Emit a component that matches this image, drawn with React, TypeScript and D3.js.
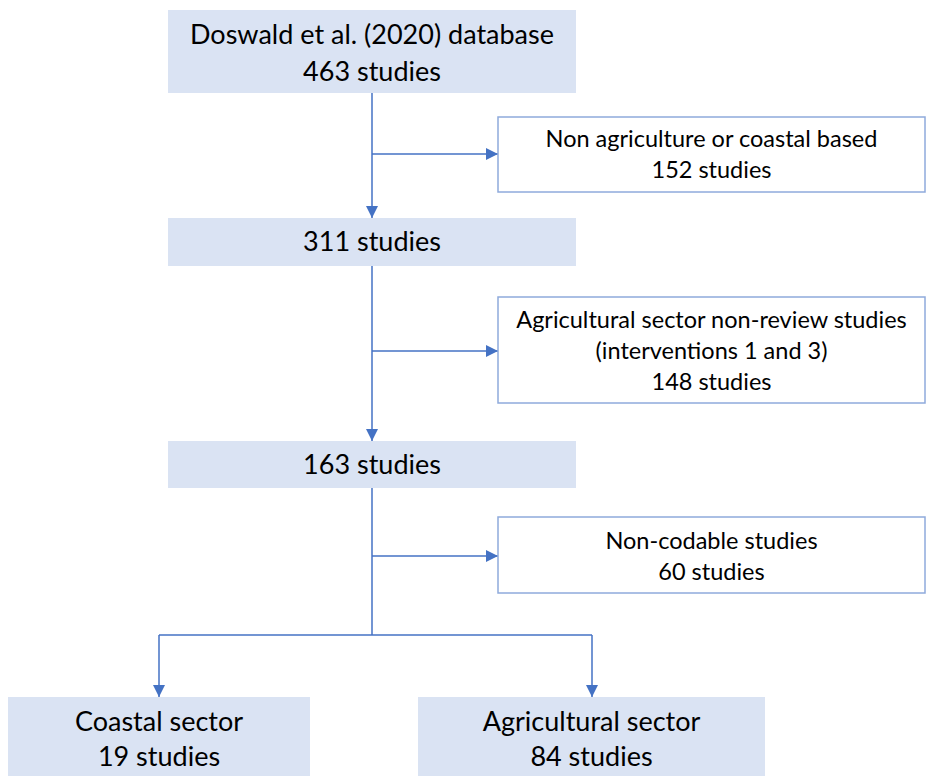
import { useEffect, useRef } from "react";
import * as d3 from "d3";

// main flow (left column), counts of studies
const mainLabels = [["Doswald et al. (2020) database", "463 studies"], ["311 studies"], ["163 studies"]];
// excluded studies (right column)
const excludedLabels = [
  ["Non agriculture or coastal based", "152 studies"],
  ["Agricultural sector non-review studies", "(interventions 1 and 3)", "148 studies"],
  ["Non-codable studies", "60 studies"],
];
// final split
const finalLabels = [["Coastal sector", "19 studies"], ["Agricultural sector", "84 studies"]];

const W = 928;
const H = 776;
const LINE = "#4472c4";
const FILL = "#dae3f3";
const FONT = "Lato, 'Open Sans', sans-serif";

export default function App() {
  const ref = useRef<SVGSVGElement>(null);

  useEffect(() => {
    const svg = d3.select(ref.current);
    svg.selectAll("*").remove();

    const defs = svg.append("defs");
    defs
      .append("marker")
      .attr("id", "arr")
      .attr("viewBox", "0 0 10 10")
      .attr("refX", 10)
      .attr("refY", 5)
      .attr("markerWidth", 12)
      .attr("markerHeight", 12)
      .attr("markerUnits", "userSpaceOnUse")
      .attr("orient", "auto")
      .append("path")
      .attr("d", "M0,0L10,5L0,10Z")
      .attr("fill", LINE);

    // layout of boxes
    const main = [
      { x: 168, y: 10, w: 408, h: 83, lines: mainLabels[0], ty: [35, 72] },
      { x: 168, y: 218, w: 408, h: 48, lines: mainLabels[1], ty: [242] },
      { x: 168, y: 441, w: 408, h: 47, lines: mainLabels[2], ty: [465] },
    ];
    const side = [
      { x: 498, y: 117, w: 427, h: 75, lines: excludedLabels[0], ty: [139, 170] },
      { x: 498, y: 297, w: 427, h: 106, lines: excludedLabels[1], ty: [320, 351, 382] },
      { x: 498, y: 517, w: 427, h: 76, lines: excludedLabels[2], ty: [541, 572] },
    ];
    const bottom = [
      { x: 8, y: 697, w: 302, h: 90, lines: finalLabels[0], ty: [722, 757] },
      { x: 418, y: 697, w: 347, h: 90, lines: finalLabels[1], ty: [722, 757] },
    ];

    const cx = 372;
    const line = d3.line();
    const conn = svg.append("g").attr("fill", "none").attr("stroke", LINE).attr("stroke-width", 1.5);

    // vertical trunk segments with arrows into next main box
    conn.append("path").attr("d", line([[cx, 93], [cx, 218]])).attr("marker-end", "url(#arr)");
    conn.append("path").attr("d", line([[cx, 266], [cx, 441]])).attr("marker-end", "url(#arr)");
    conn.append("path").attr("d", line([[cx, 488], [cx, 635]]));

    // horizontal arrows to excluded boxes
    const branchY = [154, 351, 556];
    branchY.forEach((y) => {
      conn.append("path").attr("d", line([[cx, y], [498, y]])).attr("marker-end", "url(#arr)");
    });

    // final split
    const splitX = [159, 592];
    conn.append("path").attr("d", line([[splitX[0], 635], [splitX[1], 635]]));
    splitX.forEach((x) => {
      conn.append("path").attr("d", line([[x, 635], [x, 697]])).attr("marker-end", "url(#arr)");
    });

    const drawBox = (b: any, filled: boolean, size: number) => {
      const g = svg.append("g");
      g.append("rect")
        .attr("x", b.x)
        .attr("y", b.y)
        .attr("width", b.w)
        .attr("height", b.h)
        .attr("fill", filled ? FILL : "#fff")
        .attr("stroke", filled ? "none" : "#8faadc")
        .attr("stroke-width", 1.5);
      g.selectAll("text")
        .data(b.lines as string[])
        .join("text")
        .attr("x", b.x + b.w / 2)
        .attr("y", (_, i) => b.ty[i])
        .attr("dy", "0.35em")
        .attr("text-anchor", "middle")
        .attr("font-family", FONT)
        .attr("font-size", size)
        .attr("fill", "#000")
        .text((d) => d);
    };

    main.forEach((b) => drawBox(b, true, 27));
    side.forEach((b) => drawBox(b, false, 23.5));
    bottom.forEach((b) => drawBox(b, true, 27));
  }, []);

  return (
    <svg
      ref={ref}
      width={W}
      height={H}
      style={{ position: "absolute", left: 0, top: 0, background: "#fff" }}
    />
  );
}
